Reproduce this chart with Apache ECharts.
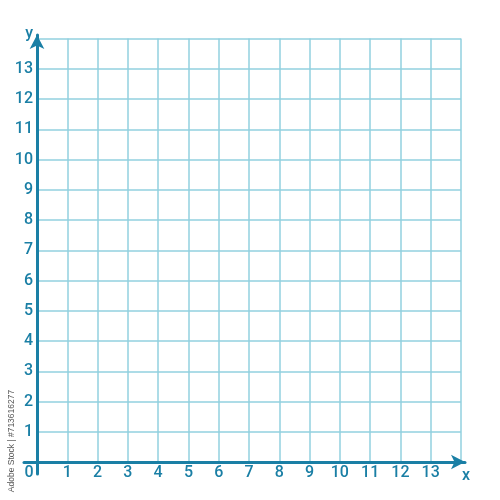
<!DOCTYPE html>
<html><head><meta charset="utf-8">
<script src="https://cdn.jsdelivr.net/npm/echarts@6/dist/echarts.min.js"></script>
<style>html,body{margin:0;padding:0;background:#fff}#c{width:500px;height:500px}</style>
</head><body><div id="c"></div>
<script>
// ---- data ----
const xTickLabels = ['0','1','2','3','4','5','6','7','8','9','10','11','12','13'];
const yTickLabels = ['1','2','3','4','5','6','7','8','9','10','11','12','13'];
const xRange = [0, 14];
const yRange = [0, 14];
const xAxisName = 'x';
const yAxisName = 'y';
const creditText = 'Adobe Stock | #713616277';

// ---- style / layout ----
const AXIS = '#1a7fa5';
const GRIDC = '#92d1df';
const FONT = 'Roboto';
const FW = 500;
const G = {left: 37, right: 39, top: 38.5, bottom: 38};
const W = 500, H = 500;
const pxX = (W - G.left - G.right) / (xRange[1] - xRange[0]);
const pxY = (H - G.top - G.bottom) / (yRange[1] - yRange[0]);
// arrow-axis grid (extends beyond lattice)
const A = {left: 24, right: 35, top: 35, bottom: 26};
const ax = {
  min: -(G.left - A.left) / pxX,
  max: xRange[1] + ((W - A.right) - (W - G.right)) / pxX
};
const ay = {
  min: -((H - A.bottom) - (H - G.bottom)) / pxY,
  max: yRange[1] + (G.top - A.top) / pxY
};

const chart = echarts.init(document.getElementById('c'), null, {renderer: 'canvas'});
chart.setOption({
  animation: false,
  backgroundColor: '#fff',
  grid: [
    Object.assign({outerBoundsMode: 'none', containLabel: false}, G),
    Object.assign({outerBoundsMode: 'none', containLabel: false}, A)
  ],
  xAxis: [{
    gridIndex: 0, type: 'value', min: xRange[0], max: xRange[1], interval: 1,
    axisLine: {show: false}, axisTick: {show: false},
    splitLine: {show: true, lineStyle: {color: GRIDC, width: 1.5}},
    axisLabel: {
      show: true, margin: 3, color: AXIS, fontFamily: FONT, fontSize: 16, fontWeight: FW,
      showMaxLabel: false,
      formatter: function (v) {
        const s = String(v);
        if (xTickLabels.indexOf(s) < 0) return '';
        return v === 0 ? '{z|' + s + '}' : s;
      },
      rich: {z: {color: AXIS, fontFamily: FONT, fontSize: 16, fontWeight: FW, padding: [0, 16, 0, 0]}}
    },
    name: xAxisName, nameLocation: 'end', nameGap: 5,
    nameTextStyle: {color: AXIS, fontFamily: FONT, fontSize: 16, fontWeight: FW, align: 'center', verticalAlign: 'top', padding: [6, 0, 0, 0]}
  }, {
    gridIndex: 1, type: 'value', min: ax.min, max: ax.max,
    axisLine: {show: true, onZero: true, symbol: ['none', 'arrow'], symbolSize: [11, 14],
      lineStyle: {color: AXIS, width: 3}},
    axisTick: {show: false}, axisLabel: {show: false}, splitLine: {show: false}
  }],
  yAxis: [{
    gridIndex: 0, type: 'value', min: yRange[0], max: yRange[1], interval: 1,
    axisLine: {show: false}, axisTick: {show: false},
    splitLine: {show: true, lineStyle: {color: GRIDC, width: 1.5}},
    axisLabel: {
      show: true, margin: 4, color: AXIS, fontFamily: FONT, fontSize: 16, fontWeight: FW,
      showMinLabel: false, showMaxLabel: false,
      formatter: function (v) {
        const s = String(v);
        return yTickLabels.indexOf(s) < 0 ? '' : s;
      }
    },
    name: yAxisName, nameLocation: 'end', nameGap: 5,
    nameTextStyle: {color: AXIS, fontFamily: FONT, fontSize: 16, fontWeight: FW, align: 'right', verticalAlign: 'middle', padding: [0, 4, 0, 0]}
  }, {
    gridIndex: 1, type: 'value', min: ay.min, max: ay.max,
    axisLine: {show: true, onZero: true, symbol: ['none', 'arrow'], symbolSize: [11, 14],
      lineStyle: {color: AXIS, width: 3}},
    axisTick: {show: false}, axisLabel: {show: false}, splitLine: {show: false}
  }],
  graphic: [{
    type: 'text', x: 12, y: 441, rotation: Math.PI / 2,
    style: {text: creditText, fill: '#555', font: '8.5px "Liberation Sans", sans-serif',
      align: 'center', verticalAlign: 'middle'}
  }],
  series: []
});
</script>
</body></html>
